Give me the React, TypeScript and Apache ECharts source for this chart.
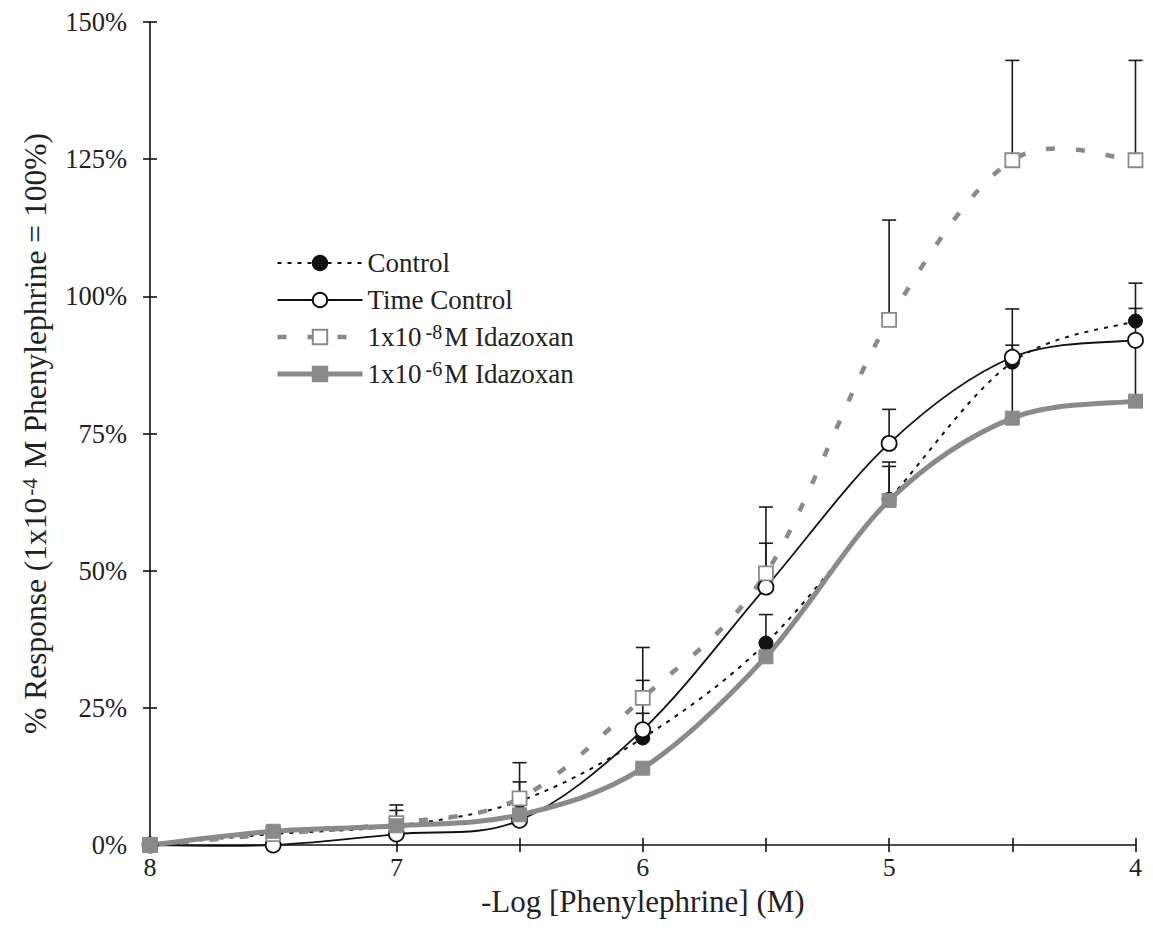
import React, { useEffect, useRef } from "react";
import * as echarts from "echarts";

const xValues = [8, 7.5, 7, 6.5, 6, 5.5, 5, 4.5, 4];
const seriesNames = ["Control", "Time Control", "1x10-8M Idazoxan", "1x10-6M Idazoxan"];
const controlValues = [0, 2, 3.5, 8, 19.5, 36.8, 63, 88, 95.5];
const timeControlValues = [0, 0, 2, 4.5, 21, 47, 73.2, 88.9, 92];
const idaz8Values = [0, 2, 4, 8.5, 26.8, 49.5, 95.7, 124.8, 124.8];
const idaz6Values = [0, 2.5, 3.5, 5.5, 14, 34.3, 62.8, 77.8, 80.9];
const controlSem = [null, null, 2.8, 3.5, 4.5, 5.2, 6.8, 3.1, 2.3];
const timeControlSem = [null, null, null, null, 9, 8, 6.2, 8.8, 10.4];
const idaz8Sem = [null, null, 3.3, 6.5, 9.2, 12.1, 18.2, 18.2, 18.2];
const idaz6Sem = [null, null, null, null, null, null, 6.2, 11, 11];
const xTickLabels = ["8", "7", "6", "5", "4"];

const FONT = "'Liberation Serif', 'Times New Roman', serif";
const GREY = "#8a8a8a";
const BLACK = "#111111";

echarts.graphic.registerShape(
  "smoothCurve",
  echarts.graphic.extendShape({
    type: "smoothCurve",
    shape: { pts: [] as number[][] },
    buildPath(ctx: any, shape: any) {
      const p = shape.pts as number[][];
      const n = p.length;
      if (n < 2) return;
      const P = (k: number) => p[Math.max(0, Math.min(n - 1, k))];
      ctx.moveTo(p[0][0], p[0][1]);
      for (let i = 0; i < n - 1; i++) {
        const p0 = P(i - 1), p1 = P(i), p2 = P(i + 1), p3 = P(i + 2);
        const c1x = p1[0] + (p2[0] - p0[0]) / 6;
        const c1y = p1[1] + (p2[1] - p0[1]) / 6;
        const c2x = p2[0] - (p3[0] - p1[0]) / 6;
        const c2y = p2[1] - (p3[1] - p1[1]) / 6;
        ctx.bezierCurveTo(c1x, c1y, c2x, c2y, p2[0], p2[1]);
      }
    },
  }) as any
);

function pairs(vals: number[]) {
  return xValues.map((x, i) => [x, vals[i]]);
}
function errData(vals: number[], sem: (number | null)[]) {
  const out: number[][] = [];
  xValues.forEach((x, i) => {
    const s = sem[i];
    if (s != null) out.push([x, vals[i], vals[i] + s]);
  });
  return out;
}

export default function App() {
  const ref = useRef<HTMLDivElement>(null);
  useEffect(() => {
    if (!ref.current) return;
    const chart = echarts.init(ref.current, null, { renderer: "svg" });
    const errSeries = (vals: number[], sem: (number | null)[]) => ({
      type: "custom",
      z: 1,
      silent: true,
      encode: { x: 0, y: [1, 2] },
      data: errData(vals, sem),
      renderItem: (params: any, api: any) => {
        const x = api.value(0);
        const p0 = api.coord([x, api.value(1)]);
        const p1 = api.coord([x, api.value(2)]);
        return {
          type: "group",
          children: [
            { type: "line", shape: { x1: p0[0], y1: p0[1], x2: p1[0], y2: p1[1] }, style: { stroke: "#1a1a1a", lineWidth: 1.6 } },
            { type: "line", shape: { x1: p1[0] - 7, y1: p1[1], x2: p1[0] + 7, y2: p1[1] }, style: { stroke: "#1a1a1a", lineWidth: 1.6 } },
          ],
        };
      },
    });
    const curveSeries = (vals: number[], stroke: string, width: number, dash: number[] | null, z: number) => ({
      type: "custom",
      z,
      silent: true,
      encode: { x: 0, y: 1 },
      data: pairs(vals),
      renderItem: (params: any, api: any) => {
        if (params.dataIndex !== 0) return null;
        const pts = xValues.map((x, i) => api.coord([x, vals[i]]));
        return {
          type: "smoothCurve",
          shape: { pts },
          style: { stroke, lineWidth: width, lineDash: dash || undefined, fill: null },
        };
      },
    });
    const supRich = {
      sup: { fontSize: 20, fontFamily: FONT, color: "#222", verticalAlign: "top", lineHeight: 18, padding: [0, 2, 0, 4] },
    };
    const styles = [
      { color: BLACK, width: 2, type: [4, 6] },
      { color: BLACK, width: 1.8, type: "solid" },
      { color: GREY, width: 4.5, type: [9, 21] },
      { color: GREY, width: 5, type: "solid" },
    ];
    chart.setOption({
      animation: false,
      backgroundColor: "#ffffff",
      textStyle: { fontFamily: FONT },
      grid: { left: 142, right: 7, top: 14, bottom: 84, containLabel: false },
      legend: {
        data: seriesNames.map((name, i) => ({ name, lineStyle: { ...styles[i], opacity: 1 } })),
        orient: "vertical",
        left: 262,
        top: 235,
        itemWidth: 85,
        itemHeight: 18,
        itemGap: 7,
        formatter: (name: string) => {
          if (name === seriesNames[2]) return "1x10{sup|-8}M Idazoxan";
          if (name === seriesNames[3]) return "1x10{sup|-6}M Idazoxan";
          return name;
        },
        textStyle: { fontFamily: FONT, fontSize: 27, color: "#222", lineHeight: 30, rich: supRich },
      },
      xAxis: [
        {
          type: "value",
          min: 4,
          max: 8,
          interval: 0.5,
          inverse: true,
          position: "bottom",
          name: "-Log [Phenylephrine] (M)",
          nameLocation: "middle",
          nameGap: 41,
          nameTextStyle: { fontFamily: FONT, fontSize: 31, color: "#222" },
          axisLine: { onZero: false, lineStyle: { color: BLACK, width: 1.6 } },
          axisTick: { length: 7, lineStyle: { color: BLACK, width: 1.6 } },
          axisLabel: {
            margin: 9,
            fontFamily: FONT,
            fontSize: 26,
            color: "#222",
            formatter: (v: number) => (Number.isInteger(v) ? xTickLabels[8 - v] : ""),
          },
          splitLine: { show: false },
        },
        {
          type: "value",
          min: 4,
          max: 8,
          interval: 0.5,
          inverse: true,
          position: "bottom",
          axisLine: { show: false, onZero: false },
          axisTick: { inside: true, length: 7, lineStyle: { color: BLACK, width: 1.6 } },
          axisLabel: { show: false },
          splitLine: { show: false },
        },
      ],
      yAxis: [
        {
          type: "value",
          min: 0,
          max: 150,
          interval: 25,
          position: "left",
          name: "% Response (1x10{sup|-4} M Phenylephrine = 100%)",
          nameLocation: "middle",
          nameGap: 99,
          nameTextStyle: {
            fontFamily: FONT,
            fontSize: 31.5,
            color: "#222",
            rich: { sup: { fontSize: 21, fontFamily: FONT, color: "#222", verticalAlign: "top", lineHeight: 18, padding: [0, 2, 0, 2] } },
          },
          axisLine: { show: true, onZero: false, lineStyle: { color: BLACK, width: 1.6 } },
          axisTick: { show: true, length: 7, lineStyle: { color: BLACK, width: 1.6 } },
          axisLabel: { margin: 23, fontFamily: FONT, fontSize: 26.5, color: "#222", formatter: (v: number) => v + "%" },
          splitLine: { show: false },
        },
        {
          type: "value",
          min: 0,
          max: 150,
          interval: 25,
          position: "left",
          axisLine: { show: false, onZero: false },
          axisTick: { show: true, inside: true, length: 7, lineStyle: { color: BLACK, width: 1.6 } },
          axisLabel: { show: false },
          splitLine: { show: false },
        },
      ],
      series: [
        errSeries(controlValues, controlSem),
        errSeries(timeControlValues, timeControlSem),
        errSeries(idaz8Values, idaz8Sem),
        errSeries(idaz6Values, idaz6Sem),
        curveSeries(controlValues, BLACK, 2, [4, 6], 2),
        curveSeries(timeControlValues, BLACK, 1.8, null, 2),
        curveSeries(idaz8Values, GREY, 4.5, [9, 21], 2),
        curveSeries(idaz6Values, GREY, 5, null, 2),
        {
          name: seriesNames[0],
          type: "line",
          z: 3,
          data: pairs(controlValues),
          symbol: "circle",
          symbolSize: 14,
          itemStyle: { color: BLACK, borderColor: BLACK, borderWidth: 1 },
          lineStyle: { ...styles[0], opacity: 0 },
        },
        {
          name: seriesNames[1],
          type: "line",
          z: 4,
          data: pairs(timeControlValues),
          symbol: "circle",
          symbolSize: 15,
          itemStyle: { color: "#ffffff", borderColor: BLACK, borderWidth: 1.8 },
          lineStyle: { ...styles[1], opacity: 0 },
        },
        {
          name: seriesNames[2],
          type: "line",
          z: 5,
          data: pairs(idaz8Values),
          symbol: "rect",
          symbolSize: 14,
          itemStyle: { color: "#ffffff", borderColor: GREY, borderWidth: 1.8 },
          lineStyle: { ...styles[2], opacity: 0 },
        },
        {
          name: seriesNames[3],
          type: "line",
          z: 6,
          data: pairs(idaz6Values),
          symbol: "rect",
          symbolSize: 14,
          itemStyle: { color: GREY, borderColor: GREY, borderWidth: 1 },
          lineStyle: { ...styles[3], opacity: 0 },
        },
      ],
    });
    return () => chart.dispose();
  }, []);
  return <div ref={ref} style={{ width: 1137, height: 921 }} />;
}
